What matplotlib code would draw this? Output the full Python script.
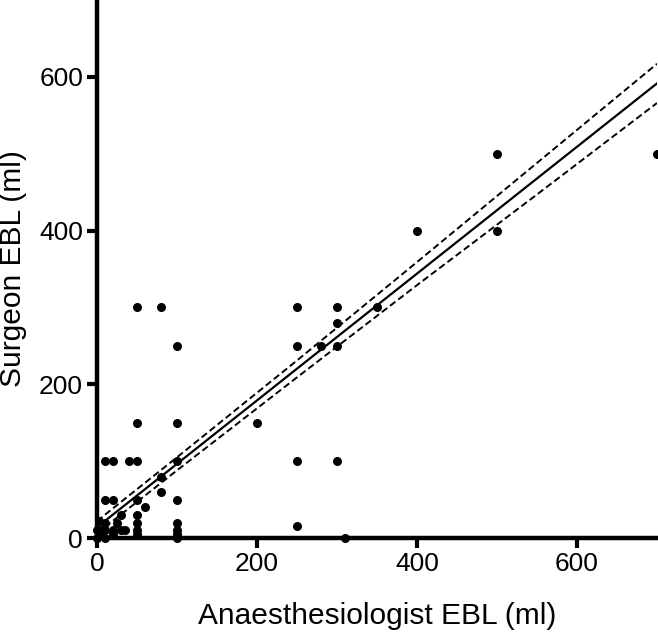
import numpy as np
import matplotlib
matplotlib.use('Agg')
import matplotlib.pyplot as plt

plt.rcParams['font.family'] = ['Liberation Sans', 'DejaVu Sans']

# === Data ===
anaes_ebl = [0, 0, 2, 5, 5, 10, 10, 10, 10, 10, 20, 20, 20, 20, 25, 30, 30, 35, 40,
             50, 50, 50, 50, 50, 50, 50, 50, 60, 80, 80, 80,
             100, 100, 100, 100, 100, 100, 100, 100, 200,
             250, 250, 250, 250, 280, 300, 300, 300, 300, 310, 350, 400, 500, 500, 700]
surgeon_ebl = [0, 10, 22, 5, 10, 0, 10, 20, 50, 100, 100, 50, 10, 5, 20, 10, 30, 10, 100,
               100, 50, 30, 20, 10, 5, 150, 300, 40, 60, 80, 300,
               0, 5, 10, 20, 50, 100, 150, 250, 150,
               15, 100, 250, 300, 250, 100, 250, 280, 300, 0, 300, 400, 400, 500, 500]

# regression line and 95% confidence band
fit_x = [0, 100, 250, 400, 550, 700]
fit_y = [14, 96.5, 220.3, 344, 467.8, 591.5]
ci_upper = [22, 105, 231, 359, 488, 617]
ci_lower = [6, 88, 209, 329, 447, 566]

# === Figure ===
fig = plt.figure(figsize=(6.58, 6.39), dpi=100)
ax = fig.add_axes([97 / 658, 101 / 639, 560 / 658, 538 / 639])

ax.scatter(anaes_ebl, surgeon_ebl, s=30, color='black', zorder=3, clip_on=False)
ax.plot(fit_x, fit_y, color='black', lw=1.6)
ax.plot(fit_x, ci_upper, color='black', lw=1.4, ls=(0, (3.5, 1.8)))
ax.plot(fit_x, ci_lower, color='black', lw=1.4, ls=(0, (3.5, 1.8)))

ax.set_xlim(0, 700)
ax.set_ylim(0, 700)
ax.set_xticks([0, 200, 400, 600])
ax.set_yticks([0, 200, 400, 600])

for side in ['top', 'right']:
    ax.spines[side].set_visible(False)
for side in ['left', 'bottom']:
    ax.spines[side].set_linewidth(3.2)
ax.tick_params(width=3, length=7, labelsize=19, pad=3)

ax.set_xlabel('Anaesthesiologist EBL (ml)', fontsize=21.5, labelpad=19)
ax.set_ylabel('Surgeon EBL (ml)', fontsize=21.5, labelpad=9)

fig.savefig('out.png', dpi=100)
